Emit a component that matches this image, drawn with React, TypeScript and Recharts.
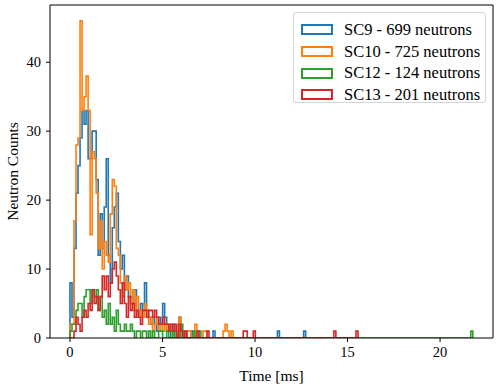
import { LineChart, Line, XAxis, YAxis, Legend, ReferenceLine } from "recharts";

const BIN_W = 0.10885;
const X_DOMAIN = [-1.08, 22.86];
const Y_DOMAIN = [0, 48.3];
const X_TICKS = [0, 5, 10, 15, 20];
const Y_TICKS = [0, 10, 20, 30, 40];

// counts per bin (bin i starts at i * BIN_W ms), dense part then sparse tail [bin, count]
const SC9_COUNTS = [
  8, 3, 13, 21, 25, 29, 33, 31, 33, 26, 26, 30, 30, 23, 12, 18, 13, 19, 26, 12,
  8, 16, 19, 21, 14, 10, 12, 7, 9, 6, 6, 5, 7, 4, 3, 5, 4, 8, 4, 3,
  2, 3, 2, 1, 3, 2, 5, 3, 2, 1, 0, 2, 1, 0, 3, 1, 0, 1, 0, 0, 1,
];
const SC9_TAIL = [[71, 1], [103, 1], [116, 1]];

const SC10_COUNTS = [
  2, 2, 17, 28, 29, 46, 33, 35, 38, 33, 15, 27, 26, 21, 13, 17, 10, 14, 12, 11,
  18, 23, 22, 13, 12, 8, 6, 9, 7, 8, 5, 7, 4, 6, 3, 4, 3, 5, 4, 2,
  3, 1, 2, 3, 1, 2, 1, 2, 1, 2, 1, 0, 1, 0, 3, 0, 1, 0, 1, 1, 0,
];
const SC10_TAIL = [[62, 2], [66, 1], [67, 1], [76, 1], [77, 2], [78, 1], [80, 1]];

const SC12_COUNTS = [
  1, 2, 2, 4, 5, 5, 3, 6, 7, 7, 5, 7, 6, 7, 4, 6, 3, 4, 2, 5,
  2, 3, 1, 4, 2, 1, 1, 2, 1, 1, 2, 1, 0, 1, 1, 0, 1, 1, 0, 1,
  0, 1, 0, 0, 1, 1, 0, 0, 1, 0, 0, 1, 0, 0, 0, 2, 0, 0, 0, 0, 0,
];
const SC12_TAIL = [[61, 1], [64, 1], [199, 1]];

const SC13_COUNTS = [
  0, 0, 1, 3, 2, 1, 3, 4, 3, 5, 4, 7, 5, 6, 4, 6, 9, 7, 9, 6,
  8, 10, 11, 9, 7, 5, 8, 5, 3, 6, 4, 5, 3, 4, 3, 2, 4, 4, 3, 4,
  4, 3, 4, 3, 2, 2, 3, 2, 2, 1, 2, 1, 2, 0, 2, 1, 0, 1, 0, 0, 0,
];
const SC13_TAIL = [[63, 1], [68, 1], [86, 1], [87, 1], [91, 1], [131, 1], [142, 1]];

const SERIES = [
  { name: "SC9 - 699 neutrons", color: "#1f77b4", counts: SC9_COUNTS, tail: SC9_TAIL },
  { name: "SC10 - 725 neutrons", color: "#ff7f0e", counts: SC10_COUNTS, tail: SC10_TAIL },
  { name: "SC12 - 124 neutrons", color: "#2ca02c", counts: SC12_COUNTS, tail: SC12_TAIL },
  { name: "SC13 - 201 neutrons", color: "#d62728", counts: SC13_COUNTS, tail: SC13_TAIL },
];

// step outline like matplotlib histtype="step"
function steps(counts: number[], tail: number[][]) {
  const c = counts.slice();
  for (const [i, v] of tail) {
    while (c.length <= i) c.push(0);
    c[i] = v;
  }
  const pts = [{ t: 0, n: 0 }];
  c.forEach((v, i) => pts.push({ t: i * BIN_W, n: v }));
  pts.push({ t: c.length * BIN_W, n: 0 });
  return pts;
}

const FONT = "'Liberation Serif', 'DejaVu Serif', serif";

function LegendBox() {
  return (
    <div
      style={{
        width: 193, height: 91, boxSizing: "border-box", border: "1px solid #d5d5d5",
        borderRadius: 3, background: "rgba(255,255,255,0.8)", padding: "6px 0 0 7px",
        fontFamily: FONT, fontSize: 16.5, color: "#000",
      }}
    >
      {SERIES.map((s) => (
        <div key={s.name} style={{ display: "flex", alignItems: "center", height: 21.7 }}>
          <span style={{ width: 32, height: 11, boxSizing: "border-box", border: `2px solid ${s.color}`, marginRight: 11 }} />
          <span style={{ whiteSpace: "nowrap" }}>{s.name}</span>
        </div>
      ))}
    </div>
  );
}

export default function App() {
  const tick = { fontSize: 14.5, fill: "#000", fontFamily: FONT };
  return (
    <div style={{ position: "absolute", left: 0, top: 0, width: 498, height: 388, background: "#fff" }}>
      <LineChart width={498} height={388} margin={{ top: 5, right: 5, bottom: 0, left: 0 }}>
        <XAxis
          dataKey="t" type="number" domain={X_DOMAIN} ticks={X_TICKS} allowDataOverflow
          height={50} tick={tick} tickSize={4} tickMargin={5}
          stroke="#000" tickLine={{ stroke: "#000" }}
          label={{ value: "Time [ms]", position: "center", dy: 12, style: { fontSize: 15.5, fill: "#000", fontFamily: FONT } }}
        />
        <YAxis
          dataKey="n" type="number" domain={Y_DOMAIN} ticks={Y_TICKS} allowDataOverflow
          width={50} tick={tick} tickSize={4} tickMargin={5}
          stroke="#000" tickLine={{ stroke: "#000" }}
          label={{ value: "Neutron Counts", angle: -90, position: "center", dx: -13, style: { fontSize: 15.5, fill: "#000", fontFamily: FONT } }}
        />
        {/* top and right spines */}
        <ReferenceLine y={Y_DOMAIN[1]} stroke="#000" strokeWidth={1} ifOverflow="extendDomain" />
        <ReferenceLine x={X_DOMAIN[1]} stroke="#000" strokeWidth={1} ifOverflow="extendDomain" />
        {SERIES.map((s) => (
          <Line
            key={s.name} data={steps(s.counts, s.tail)} dataKey="n" name={s.name}
            type="stepAfter" stroke={s.color} strokeWidth={1.6} dot={false}
            isAnimationActive={false}
          />
        ))}
        <Legend
          layout="vertical" align="center" verticalAlign="middle"
          wrapperStyle={{ left: 293, top: 12, width: 193, height: 91 }}
          content={() => <LegendBox />}
        />
      </LineChart>
    </div>
  );
}
